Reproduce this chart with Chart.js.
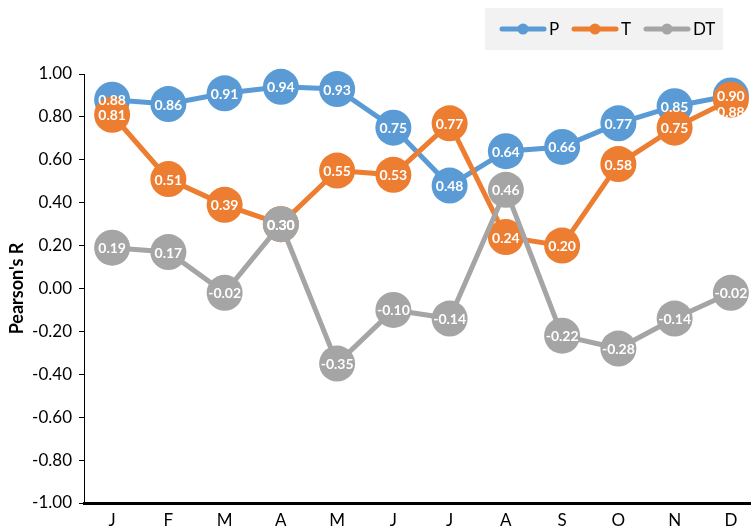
<!DOCTYPE html>
<html>
<head>
<meta charset="utf-8">
<script src="https://cdn.jsdelivr.net/npm/chart.js@4.4.0/dist/chart.umd.min.js"></script>
<style>
  html, body { margin: 0; padding: 0; background: #fff; overflow: hidden; }
  #wrap { width: 760px; height: 530px; }
</style>
</head>
<body>
<div id="wrap"><canvas id="chart" width="760" height="530"></canvas></div>
<script>
// months
const months = ['J', 'F', 'M', 'A', 'M', 'J', 'J', 'A', 'S', 'O', 'N', 'D'];

// Pearson's R per month
const pValues = [0.88, 0.86, 0.91, 0.94, 0.93, 0.75, 0.48, 0.64, 0.66, 0.77, 0.85, 0.90];
const tValues = [0.81, 0.51, 0.39, 0.30, 0.55, 0.53, 0.77, 0.24, 0.20, 0.58, 0.75, 0.88];
const dtValues = [0.19, 0.17, -0.02, 0.30, -0.35, -0.10, -0.14, 0.46, -0.22, -0.28, -0.14, -0.02];

const seriesNames = ['P', 'T', 'DT'];
const seriesColors = ['#5B9BD5', '#ED7D31', '#A5A5A5'];

const FONT = 'Lato, "Open Sans", sans-serif';

const makeSet = (i, data) => ({
    label: seriesNames[i],
    data: data,
    borderColor: seriesColors[i],
    backgroundColor: seriesColors[i],
    pointBackgroundColor: seriesColors[i],
    pointBorderWidth: 0,
    pointRadius: 18,
    pointHoverRadius: 18,
    borderWidth: 5,
    tension: 0,
    clip: false,
    order: 3 - i   // later series on top, like the original
});

// white value labels inside the markers
const valueLabels = {
    id: 'valueLabels',
    afterDatasetsDraw(chart) {
        const ctx = chart.ctx;
        ctx.save();
        ctx.font = 'bold 14px ' + FONT;
        ctx.fillStyle = '#fff';
        ctx.textAlign = 'center';
        ctx.textBaseline = 'middle';
        const placed = []; // per month: labels already drawn
        chart.data.datasets.forEach((ds, i) => {
            const meta = chart.getDatasetMeta(i);
            meta.data.forEach((pt, j) => {
                const text = ds.data[j].toFixed(2);
                let y = pt.y + 1;
                placed[j] = placed[j] || [];
                // push a different label down if it would sit on top of another one
                placed[j].forEach(p => {
                    if (p.text !== text && Math.abs(p.y - y) < 14) y = p.y + 16;
                });
                placed[j].push({ text, y });
                ctx.fillText(text, pt.x, y);
            });
        });
        ctx.restore();
    }
};

// legend box top right
const boxLegend = {
    id: 'boxLegend',
    afterDraw(chart) {
        const ctx = chart.ctx;
        ctx.save();
        ctx.fillStyle = '#F2F2F2';
        ctx.fillRect(485, 8, 238, 42);
        ctx.font = '17px ' + FONT;
        ctx.textBaseline = 'middle';
        ctx.textAlign = 'left';
        let x = 500;
        const y = 29;
        chart.data.datasets.forEach((ds) => {
            ctx.strokeStyle = ds.borderColor;
            ctx.lineWidth = 5;
            ctx.lineCap = 'round';
            ctx.beginPath();
            ctx.moveTo(x + 2, y);
            ctx.lineTo(x + 44, y);
            ctx.stroke();
            ctx.fillStyle = ds.borderColor;
            ctx.beginPath();
            ctx.arc(x + 23, y, 5.5, 0, Math.PI * 2);
            ctx.fill();
            ctx.fillStyle = '#000';
            ctx.fillText(ds.label, x + 49, y + 1);
            x += 72;
        });
        ctx.restore();
    }
};

new Chart(document.getElementById('chart'), {
    type: 'line',
    data: {
        labels: months,
        datasets: [makeSet(0, pValues), makeSet(1, tValues), makeSet(2, dtValues)]
    },
    options: {
        responsive: false,
        animation: false,
        events: [],
        layout: { autoPadding: false, padding: { top: 74, right: 1, bottom: 0, left: 0 } },
        plugins: {
            legend: { display: false },
            tooltip: { enabled: false }
        },
        scales: {
            x: {
                offset: true,
                afterFit: (scale) => { scale.height = 27; },
                grid: { display: false, drawTicks: false },
                border: { display: true, color: '#000', width: 3 },
                ticks: { color: '#000', font: { family: FONT, size: 17 }, padding: 7 }
            },
            y: {
                min: -1,
                max: 1,
                afterFit: (scale) => { scale.width = 84; },
                grid: { drawOnChartArea: false, drawTicks: true, tickLength: 5, color: '#000' },
                border: { display: true, color: '#000', width: 1 },
                ticks: {
                    stepSize: 0.2,
                    color: '#000',
                    padding: 7,
                    font: { family: FONT, size: 17 },
                    callback: (v) => (Math.abs(v) < 1e-9 ? 0 : v).toFixed(2)
                },
                title: {
                    display: true,
                    text: "Pearson's R",
                    color: '#000',
                    font: { family: FONT, size: 18, weight: 'bold' },
                    padding: { top: 6, bottom: 0 }
                }
            }
        }
    },
    plugins: [valueLabels, boxLegend]
});
</script>
</body>
</html>
